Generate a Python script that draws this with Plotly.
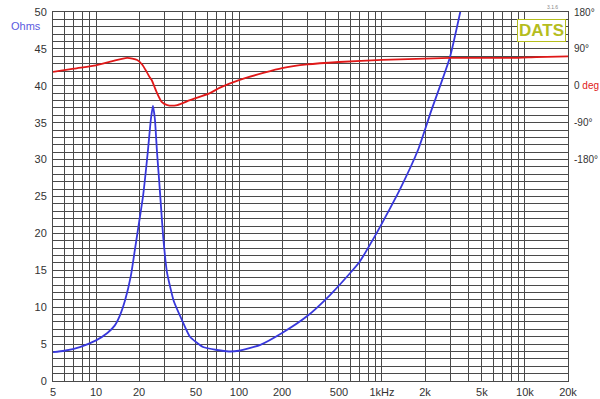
import plotly.graph_objects as go

# Impedance magnitude (ohms)
imp_freq = [5, 6, 7.7, 10, 12, 13.5, 14.7, 16, 17.5, 18.7, 20, 21.3, 23, 24.2, 25, 25.8, 26.7, 27.6, 28.5, 29.5,
            31.3, 35, 39.8, 45.4, 56, 70, 85, 100, 141, 200, 300, 433, 597, 700, 890, 1015, 1330, 1786, 2200, 2980, 3675]
imp_ohms = [3.9, 4.1, 4.6, 5.5, 6.5, 7.5, 8.9, 11, 14.2, 17.8, 21.5, 25, 31, 35.5, 37.3, 35.5, 31, 27.3, 23.5, 19.5,
            14.8, 10.8, 8.3, 6.0, 4.6, 4.2, 4.0, 4.1, 4.9, 6.5, 8.8, 11.65, 14.6, 16.2, 19.6, 21.6, 25.9, 31.3, 36.5, 43.8, 51.6]

# Phase (degrees)
ph_freq = [5, 7, 10, 13, 16.5, 19.4, 21, 22.6, 23.8, 24.5, 26.5, 28.9, 31.5, 37, 45.4, 62.6, 73, 100, 150, 200, 300,
           500, 1000, 3000, 8000, 12000, 20000]
ph_deg = [33.7, 42, 50, 60, 68, 63, 52, 34, 20, 14, -15, -40, -47, -47, -35, -18, -5, 14, 32, 43, 52,
          58, 63, 68, 68, 70, 72]

x_grid = [5, 6, 7, 8, 9, 10, 20, 30, 40, 50, 60, 70, 80, 90, 100, 200, 300, 400, 500, 600, 700, 800, 900,
          1000, 2000, 3000, 4000, 5000, 6000, 7000, 8000, 9000, 10000, 20000]
x_labels = {5: "5", 10: "10", 20: "20", 50: "50", 100: "100", 200: "200", 500: "500", 1000: "1kHz",
            2000: "2k", 5000: "5k", 10000: "10k", 20000: "20k"}
y_ticks = [0, 5, 10, 15, 20, 25, 30, 35, 40, 45, 50]
ph_ticks = [180, 90, 0, -90, -180]
ph_labels = ["180°", "90°", '0 <span style="color:#e02020">deg</span>', "-90°", "-180°"]

fig = go.Figure()
fig.add_trace(go.Scatter(x=imp_freq, y=imp_ohms, mode="lines", line=dict(color="#3838dc", width=1.8, shape="spline", smoothing=0.5),
                         yaxis="y", showlegend=False, hoverinfo="skip"))
fig.add_trace(go.Scatter(x=ph_freq, y=ph_deg, mode="lines", line=dict(color="#e01818", width=1.8, shape="spline", smoothing=0.6),
                         yaxis="y2", showlegend=False, hoverinfo="skip"))

grid_c = "#4a4a4a"
fig.update_layout(
    width=600, height=399,
    margin=dict(l=53, r=32, t=12, b=18, autoexpand=False),
    paper_bgcolor="white", plot_bgcolor="white",
    font=dict(family="Liberation Sans, Arial, sans-serif", size=11, color="#333333"),
    xaxis=dict(type="log", range=[0.69897, 4.30103], tickmode="array", tickvals=x_grid,
               ticktext=[x_labels.get(v, "") for v in x_grid], showgrid=True, gridcolor=grid_c, gridwidth=1,
               zeroline=False, showline=True, linecolor=grid_c, mirror=True, ticks="outside", ticklen=1,
               tickcolor="white", automargin=False, tickfont=dict(size=11, color="#333333")),
    yaxis=dict(range=[0, 50], tickmode="array", tickvals=y_ticks, showgrid=True, gridcolor=grid_c, gridwidth=1,
               minor=dict(dtick=1, showgrid=True, gridcolor=grid_c, gridwidth=1), zeroline=False,
               showline=True, linecolor=grid_c, mirror=True, ticks="outside", ticklen=3, tickcolor="white",
               automargin=False, tickfont=dict(size=11, color="#333333")),
    yaxis2=dict(range=[-720, 180], overlaying="y", side="right", tickmode="array", tickvals=ph_ticks,
                ticktext=ph_labels, showgrid=False, zeroline=False, showline=False, ticks="outside",
                ticklen=3, tickcolor="white", automargin=False, tickfont=dict(size=10, color="#333333")),
    annotations=[
        dict(x=-0.085, y=0.963, xref="paper", yref="paper", xanchor="left", yanchor="middle", showarrow=False,
             text="Ohms", font=dict(size=11, color="#5a5ae0")),
        dict(x=0.996, y=0.982, xref="paper", yref="paper", xanchor="right", yanchor="top", showarrow=False,
             text="<b>DATS</b>", font=dict(size=17, color="#b5bd1e"), bgcolor="white",
             bordercolor="#b5bd1e", borderwidth=1, borderpad=1),
        dict(x=0.985, y=1.0, xref="paper", yref="paper", xanchor="right", yanchor="bottom", showarrow=False,
             text="3.1.6", font=dict(size=5, color="#888888")),
    ],
)

fig.write_html("out.html", config={"displayModeBar": False},
               post_script="document.body.style.margin='0';document.body.style.overflow='hidden';")
